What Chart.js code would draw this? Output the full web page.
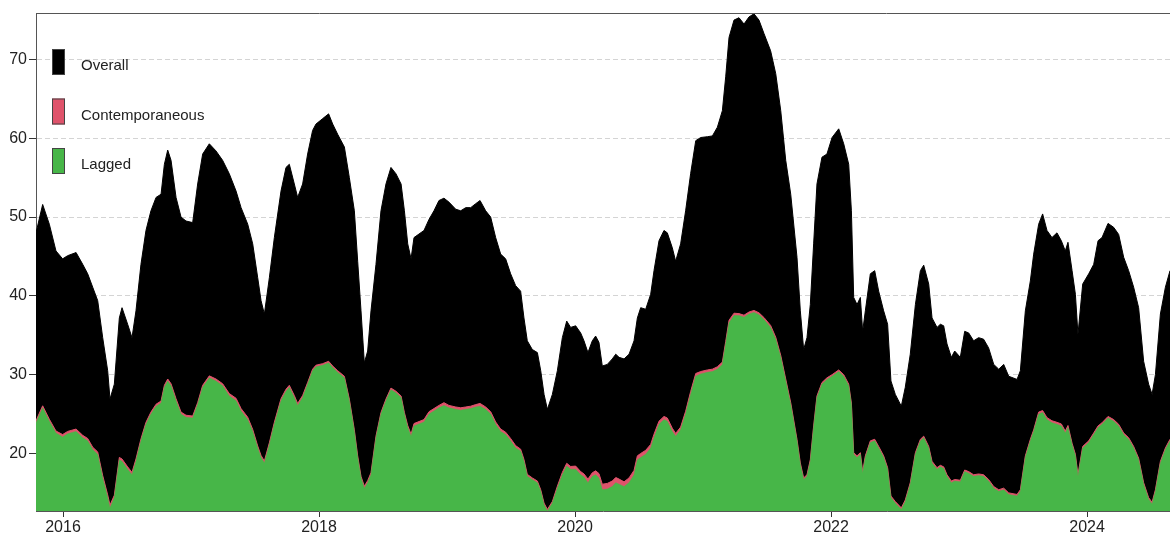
<!DOCTYPE html>
<html>
<head>
<meta charset="utf-8">
<script src="https://cdn.jsdelivr.net/npm/chart.js@4.4.1/dist/chart.umd.min.js"></script>
<style>
  html, body { margin: 0; padding: 0; background: #ffffff; }
  #wrap { width: 1170px; height: 535px; }
</style>
</head>
<body>
<div id="wrap"><canvas id="c" width="1170" height="535"></canvas></div>
<script>
// ---- data (decimal years) ----
const dates = [
2015.789,2015.841,2015.893,2015.945,2015.997,2016.036,2016.102,2016.154,2016.193,2016.232,
2016.271,2016.310,2016.349,2016.367,2016.401,2016.440,2016.461,2016.505,2016.539,2016.570,
2016.609,2016.648,2016.687,2016.727,2016.766,2016.792,2016.818,2016.844,2016.883,2016.922,
2016.961,2017.013,2017.052,2017.091,2017.143,2017.195,2017.247,2017.299,2017.352,2017.391,
2017.443,2017.482,2017.521,2017.547,2017.573,2017.612,2017.651,2017.703,2017.742,2017.768,
2017.807,2017.833,2017.872,2017.911,2017.950,2017.976,2018.029,2018.075,2018.107,2018.146,
2018.198,2018.237,2018.276,2018.302,2018.328,2018.354,2018.380,2018.406,2018.445,2018.484,
2018.523,2018.562,2018.601,2018.641,2018.667,2018.693,2018.719,
2018.742,2018.820,2018.859,2018.898,2018.937,2018.976,2019.015,2019.068,2019.107,2019.146,
2019.185,2019.224,2019.258,2019.302,2019.341,2019.380,2019.419,2019.458,2019.497,2019.536,
2019.575,2019.601,2019.627,2019.666,2019.706,2019.732,2019.758,2019.784,2019.823,2019.862,
2019.901,2019.935,2019.966,2020.005,2020.044,2020.070,2020.101,2020.135,2020.161,2020.187,
2020.213,2020.252,2020.291,2020.318,2020.344,2020.383,2020.422,2020.461,2020.487,2020.513,
2020.552,2020.591,2020.617,2020.656,2020.695,2020.721,2020.760,2020.786,2020.825,2020.864,
2020.903,2020.943,2020.982,2021.034,2021.073,2021.112,2021.151,2021.177,2021.203,2021.242,
2021.281,2021.320,2021.359,2021.398,2021.437,2021.476,2021.528,2021.568,2021.607,2021.646,
2021.685,
2021.734,2021.760,2021.786,2021.812,2021.838,2021.864,2021.890,2021.929,2021.968,2022.008,
2022.060,2022.099,2022.138,2022.159,2022.177,2022.203,2022.229,2022.247,2022.268,2022.307,
2022.341,2022.372,2022.411,2022.442,2022.468,2022.502,2022.549,2022.580,2022.619,2022.659,
2022.698,2022.724,2022.763,2022.789,2022.828,2022.854,2022.880,2022.906,2022.940,2022.966,
2023.010,2023.044,2023.075,2023.114,2023.153,2023.192,2023.231,2023.271,2023.310,2023.349,
2023.388,2023.453,2023.479,2023.518,2023.557,2023.583,2023.622,2023.653,2023.687,2023.726,
2023.765,2023.799,2023.830,2023.851,2023.883,2023.909,2023.929,2023.966,2024.013,2024.052,
2024.086,2024.117,2024.164,2024.208,2024.247,2024.286,2024.325,2024.364,2024.403,2024.442,
2024.481,2024.508,2024.534,2024.573,2024.612,2024.648
];

const overall = [
48.0,51.6,49.1,45.7,44.7,45.1,45.5,44.0,42.8,41.1,
39.4,34.7,30.5,26.9,28.8,37.2,38.5,36.4,34.7,38.1,
44.0,48.3,50.8,52.5,52.9,56.7,58.5,57.2,52.5,50.0,
49.5,49.3,54.2,58.0,59.3,58.4,57.2,55.5,53.3,51.2,
49.1,46.6,42.3,39.4,37.7,42.3,47.4,53.3,56.3,56.7,
54.2,52.5,54.2,58.0,61.0,61.8,62.5,63.1,61.8,60.5,
58.9,55.0,50.8,44.4,38.1,31.5,33.0,38.1,44.0,50.8,
54.2,56.3,55.5,54.2,50.8,46.6,44.7,
47.4,48.3,49.7,50.8,52.1,52.4,51.9,51.0,50.8,51.2,
51.2,51.7,52.1,50.8,50.0,47.4,45.3,44.7,42.8,41.3,
40.6,37.2,34.3,33.2,32.8,30.5,27.5,25.6,27.5,30.5,
34.7,36.8,36.0,36.2,35.3,34.3,32.8,34.3,34.9,34.1,
31.1,31.3,32.0,32.6,32.2,32.0,32.6,34.3,37.2,38.5,
38.3,40.2,43.2,47.0,48.3,48.0,46.1,44.4,46.6,50.8,
55.5,59.7,60.1,60.2,60.3,61.4,63.5,67.8,72.8,75.0,
75.3,74.5,75.4,75.8,75.0,73.3,71.1,68.2,63.5,57.2,
52.9,
44.9,38.1,33.2,34.7,38.9,46.6,54.2,57.6,58.0,60.1,
61.2,59.3,56.7,50.8,39.8,38.9,39.8,35.5,38.1,42.8,
43.2,40.6,38.1,36.4,29.2,27.5,26.0,28.4,32.6,38.9,
43.2,43.9,41.5,37.2,36.0,36.4,36.2,33.9,32.2,33.0,
32.2,35.5,35.3,34.3,34.7,34.5,33.4,31.3,30.7,31.3,
29.8,29.4,30.5,38.1,41.9,45.3,49.1,50.4,48.3,47.4,
48.0,47.0,45.7,46.8,43.2,40.2,35.1,41.5,42.8,44.0,
47.0,47.4,49.2,48.7,47.8,44.9,43.2,41.1,38.5,31.7,
28.8,27.5,30.0,37.7,41.1,43.2
];

const lagged = [
23.9,25.8,24.1,22.6,22.1,22.5,22.8,22.0,21.6,20.5,
19.9,16.9,14.4,13.1,14.4,19.2,19.0,18.0,17.3,19.0,
21.6,23.7,25.0,26.0,26.4,28.4,29.2,28.6,26.7,25.0,
24.6,24.5,26.2,28.4,29.6,29.2,28.6,27.3,26.7,25.4,
24.3,22.8,20.7,19.5,18.8,21.1,23.7,26.7,27.9,28.4,
27.1,26.1,27.1,28.8,30.5,31.0,31.2,31.5,30.9,30.3,
29.6,26.7,22.8,19.5,16.9,15.6,16.3,17.3,22.0,25.0,
26.7,28.1,27.7,27.1,25.0,23.3,22.2,
23.5,24.0,25.0,25.4,25.8,26.1,25.8,25.6,25.5,25.6,
25.7,25.9,26.0,25.6,25.0,23.7,22.8,22.4,21.6,20.7,
20.3,19.0,17.1,16.7,16.3,15.2,13.5,12.7,13.7,15.6,
17.3,18.4,18.0,18.0,17.3,17.0,16.3,17.1,17.3,16.9,
15.4,15.5,15.8,16.3,16.1,15.8,16.3,17.3,19.2,19.5,
19.9,20.7,22.0,23.7,24.3,24.1,22.8,22.2,23.0,25.0,
27.5,29.8,30.1,30.3,30.4,30.7,31.3,33.9,36.6,37.5,
37.5,37.3,37.7,37.9,37.6,37.0,36.0,34.5,32.2,29.2,
26.2,
21.6,18.6,16.7,17.1,19.0,23.3,27.1,28.8,29.4,29.8,
30.4,29.8,28.6,26.2,19.9,19.5,19.9,17.5,19.5,21.4,
21.6,20.7,19.5,18.0,14.4,13.7,12.9,13.9,16.1,19.9,
21.6,22.0,20.7,18.8,18.0,18.3,18.1,17.1,16.3,16.5,
16.4,17.7,17.5,17.1,17.2,17.1,16.5,15.6,15.2,15.4,
14.8,14.6,15.2,19.5,21.6,22.8,25.0,25.2,24.3,23.9,
23.7,23.5,22.6,23.3,21.1,19.7,17.1,20.7,21.4,22.4,
23.3,23.7,24.5,24.1,23.5,22.4,21.8,20.7,19.2,16.1,
14.2,13.6,15.2,18.8,20.5,21.6
];

// contemporaneous contribution (thin band sitting on top of the lagged area)
const contemporaneous = [
0.25,0.25,0.25,0.25,0.3,0.3,0.3,0.3,0.3,0.3,
0.3,0.3,0.35,0.35,0.3,0.3,0.3,0.3,0.3,0.3,
0.25,0.25,0.25,0.25,0.25,0.25,0.25,0.25,0.25,0.25,
0.25,0.25,0.25,0.25,0.25,0.25,0.25,0.3,0.3,0.3,
0.3,0.25,0.25,0.25,0.25,0.25,0.25,0.25,0.25,0.25,
0.25,0.25,0.25,0.2,0.2,0.2,0.2,0.2,0.2,0.2,
0.2,0.2,0.2,0.2,0.2,0.25,0.25,0.25,0.2,0.2,
0.2,0.2,0.2,0.2,0.2,0.25,0.25,
0.3,0.3,0.3,0.3,0.3,0.35,0.3,0.3,0.3,0.3,
0.3,0.3,0.35,0.3,0.3,0.3,0.3,0.3,0.3,0.3,
0.25,0.25,0.25,0.2,0.2,0.2,0.2,0.2,0.2,0.25,
0.3,0.35,0.35,0.4,0.4,0.4,0.45,0.45,0.5,0.55,
0.7,0.7,0.7,0.65,0.65,0.6,0.6,0.55,0.5,0.5,
0.5,0.45,0.45,0.4,0.4,0.4,0.4,0.35,0.35,0.35,
0.35,0.35,0.3,0.3,0.3,0.3,0.3,0.3,0.3,0.3,
0.25,0.25,0.25,0.25,0.25,0.25,0.25,0.25,0.25,0.25,
0.25,
0.2,0.2,0.2,0.2,0.2,0.2,0.2,0.2,0.2,0.2,
0.2,0.2,0.2,0.2,0.2,0.2,0.2,0.2,0.2,0.2,
0.2,0.2,0.2,0.2,0.2,0.2,0.2,0.2,0.2,0.2,
0.2,0.2,0.2,0.2,0.2,0.2,0.2,0.2,0.2,0.2,
0.2,0.2,0.2,0.2,0.2,0.2,0.2,0.2,0.2,0.2,
0.2,0.2,0.2,0.2,0.2,0.2,0.25,0.25,0.25,0.25,
0.25,0.25,0.25,0.25,0.2,0.2,0.2,0.2,0.2,0.2,
0.2,0.2,0.2,0.2,0.2,0.2,0.2,0.2,0.2,0.2,
0.2,0.2,0.2,0.2,0.2,0.2
];

const seriesLabels = ['Overall', 'Contemporaneous', 'Lagged'];
const yTicks = [20, 30, 40, 50, 60, 70];
const xTicks = [2016, 2018, 2020, 2022, 2024];
const xRange = [2015.789, 2024.648];
const yRange = [12.7, 75.9];

// ---- styling ----
const colBlack = '#000000';
const colRed = '#DF536B';
const colGreen = '#47B648';
const FONT = '"Liberation Sans", Arial, Helvetica, sans-serif';

const ptsOverall = dates.map((d, i) => ({x: d, y: overall[i]}));
const ptsContemp = dates.map((d, i) => ({x: d, y: lagged[i] + contemporaneous[i]}));
const ptsLagged = dates.map((d, i) => ({x: d, y: lagged[i]}));

const legendPlugin = {
  id: 'customLegend',
  afterDraw(chart) {
    const ctx = chart.ctx;
    const ca = chart.chartArea;
    const ds = chart.data.datasets;
    ctx.save();
    // top frame line
    ctx.strokeStyle = '#555555';
    ctx.lineWidth = 1;
    ctx.beginPath();
    ctx.moveTo(ca.left, ca.top + 0.5);
    ctx.lineTo(ca.right, ca.top + 0.5);
    ctx.stroke();
    // legend
    const bx = ca.left + 16, by0 = ca.top + 36, step = 49.5;
    ds.forEach((d, i) => {
      const y = by0 + i * step;
      ctx.fillStyle = d.backgroundColor;
      ctx.fillRect(bx, y, 13, 26);
      ctx.strokeStyle = '#444444';
      ctx.lineWidth = 1;
      ctx.strokeRect(bx + 0.5, y + 0.5, 12, 25);
      ctx.fillStyle = '#222222';
      ctx.font = '15px ' + FONT;
      ctx.textBaseline = 'middle';
      ctx.textAlign = 'left';
      ctx.fillText(d.label, bx + 29, y + 17);
    });
    ctx.restore();
  }
};

new Chart(document.getElementById('c'), {
  type: 'line',
  data: {
    datasets: [
      { label: seriesLabels[0], data: ptsOverall, backgroundColor: colBlack, borderColor: colBlack,
        borderWidth: 1, pointRadius: 0, fill: 'start', tension: 0, order: 3 },
      { label: seriesLabels[1], data: ptsContemp, backgroundColor: colRed, borderColor: colRed,
        borderWidth: 1, pointRadius: 0, fill: 'start', tension: 0, order: 2 },
      { label: seriesLabels[2], data: ptsLagged, backgroundColor: colGreen, borderColor: colGreen,
        borderWidth: 0.5, pointRadius: 0, fill: 'start', tension: 0, order: 1 }
    ]
  },
  options: {
    responsive: false,
    devicePixelRatio: 1,
    animation: false,
    events: [],
    layout: { padding: { top: 13, left: 0, right: 0, bottom: 0 } },
    plugins: { legend: { display: false }, tooltip: { enabled: false } },
    scales: {
      x: {
        type: 'linear',
        min: xRange[0], max: xRange[1],
        afterBuildTicks: s => { s.ticks = xTicks.map(v => ({value: v})); },
        afterFit: s => { s.height = 24; },
        ticks: { callback: v => String(v), color: '#222222', font: { family: FONT, size: 16 }, padding: 1, maxRotation: 0, autoSkip: false },
        grid: { display: true, drawOnChartArea: false, drawTicks: true, tickLength: 6, tickColor: '#333333', tickWidth: 1 },
        border: { display: true, color: '#555555', width: 1 }
      },
      y: {
        type: 'linear',
        min: yRange[0], max: yRange[1],
        afterBuildTicks: s => { s.ticks = yTicks.map(v => ({value: v})); },
        afterFit: s => { s.width = 36; },
        ticks: { color: '#222222', font: { family: FONT, size: 16 }, padding: 2 },
        grid: { display: true, drawOnChartArea: true, drawTicks: true, tickLength: 7, color: '#d4d4d4', lineWidth: 1, tickColor: '#333333', tickWidth: 1 },
        border: { display: true, color: '#555555', width: 1, dash: [5, 3] }
      }
    }
  },
  plugins: [legendPlugin]
});
</script>
</body>
</html>
